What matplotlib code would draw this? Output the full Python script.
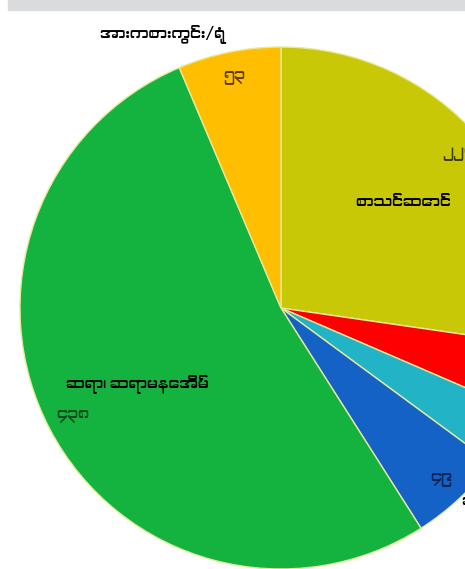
import numpy as np
import matplotlib

matplotlib.use("Agg")
import matplotlib.pyplot as plt
from matplotlib import font_manager
from matplotlib.patches import Rectangle

# slice order: clockwise from 12 o'clock
categories = ["စာသင်ဆောင်", "စာကြည့်တိုက်", "အိမ်သာ", "ဆေးခန်း",
              "ဆရာ၊ ဆရာမနေအိမ်", "အားကစားကွင်း/ရုံ"]
values = [227, 35, 30, 49, 438, 53]
colors = ["#c9c806", "#fe0000", "#22b4c6", "#1462c6", "#14b23e", "#ffbf00"]
value_colors = ["#3d3a00", "#400000", "#0b3b44", "#0a2458", "#0a4a1c", "#5e3c00"]
# where each name sits: inside the slice or outside the rim
name_inside = [True, False, False, False, True, False]

MM_DIGITS = "၀၁၂၃၄၅၆၇၈၉"


def to_mm(n):
    return "".join(MM_DIGITS[int(d)] for d in str(n))


mm_fonts = [f.name for f in font_manager.fontManager.ttflist
            if any(k in f.name for k in ("Myanmar", "Padauk", "Pyidaungsu"))]
family = mm_fonts[:1] + ["Noto Sans", "DejaVu Sans"]

W, H = 465, 569
cx, cy, R = 281, 308, 261  # pie centre and radius in pixels

fig = plt.figure(figsize=(W / 100, H / 100), dpi=100)
fig.patches.append(Rectangle((8 / W, 1 - 10 / H), 1, 10 / H,
                             transform=fig.transFigure, color="#dadbdd", zorder=0))
ax = fig.add_axes([0, 0, 1, 1])
wedges, _ = ax.pie(values, colors=colors, startangle=90, counterclock=False,
                   wedgeprops=dict(edgecolor="#e6ea9a", linewidth=1.0))
ax.set_xlim(-cx / R, (W - cx) / R)
ax.set_ylim(-(H - cy) / R, cy / R)
ax.set_aspect("auto")
ax.axis("off")

for w, name, val, vc, inside in zip(wedges, categories, values, value_colors, name_inside):
    mid = np.deg2rad((w.theta1 + w.theta2) / 2)
    ux, uy = np.cos(mid), np.sin(mid)
    ax.text(0.9 * ux, 0.9 * uy, to_mm(val), ha="center", va="center",
            fontsize=11, color=vc, family=family)
    if inside:
        ax.text(0.62 * ux, 0.62 * uy, name, ha="center", va="center",
                fontsize=10.8, fontweight="bold", color="black", family=family)
    elif uy > 0.5:
        ax.text(1.07 * ux, 1.075 * uy, name, ha="right", va="center",
                fontsize=10.8, fontweight="bold", color="black", family=family)
    else:
        ax.text(1.01 * ux, 1.01 * uy, name, ha="left", va="center",
                fontsize=10.8, fontweight="bold", color="black", family=family)

fig.savefig("out.png", dpi=100)
plt.close(fig)
